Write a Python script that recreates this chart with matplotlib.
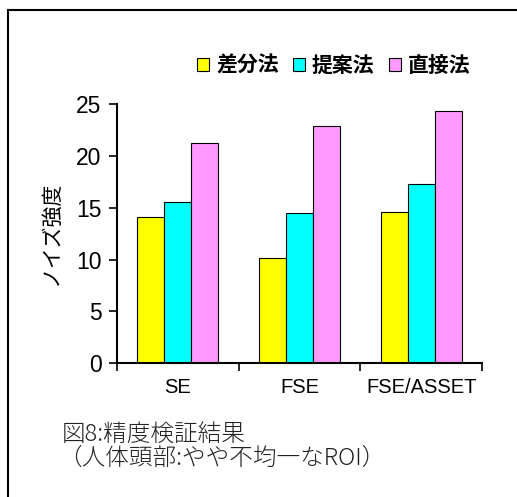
import numpy as np
import matplotlib.pyplot as plt
from matplotlib.lines import Line2D

# --- Daten ---
categories = ["SE", "FSE", "FSE/ASSET"]
series_names = ["差分法", "提案法", "直接法"]
sabun = [14.1, 10.1, 14.6]
teian = [15.6, 14.5, 17.3]
chokusetsu = [21.3, 22.9, 24.4]
colors = ["#ffff00", "#00ffff", "#ff99ff"]
yticks = [0, 5, 10, 15, 20, 25]

jp = ["Noto Sans CJK JP", "DejaVu Sans"]

fig = plt.figure(figsize=(5.17, 4.97), dpi=100)
ax = fig.add_axes([0.2263, 0.2696, 0.706, 0.5205])

x = np.arange(len(categories))
w = 0.222
for i, (vals, c, name) in enumerate(zip([sabun, teian, chokusetsu], colors, series_names)):
    ax.bar(x + (i - 1) * w, vals, w, color=c, edgecolor="black", linewidth=0.8, label=name)

ax.set_xlim(-0.5, 2.5)
ax.set_ylim(0, 25)
ax.set_yticks(yticks)
ax.set_xticks(x)
ax.set_xticklabels(categories, family="Liberation Sans", fontsize=14.5)
ax.set_xticks([-0.5, 0.5, 1.5, 2.5], minor=True)
ax.tick_params(axis="x", which="major", length=0, pad=11)
ax.tick_params(axis="x", which="minor", length=6, width=1.2, direction="out")
ax.tick_params(axis="y", length=6, width=1.2, direction="out", pad=5)
for t in ax.get_yticklabels():
    t.set_family("Liberation Sans")
    t.set_fontsize(16.5)

for s in ["top", "right"]:
    ax.spines[s].set_visible(False)
for s in ["left", "bottom"]:
    ax.spines[s].set_linewidth(1.5)

ax.set_ylabel("ノイズ強度", family=jp, fontsize=15, labelpad=10)

fig.legend(loc="center", bbox_to_anchor=(0.646, 0.869), ncol=3, frameon=False,
           prop={"family": jp, "size": 15, "weight": "bold"},
           handlelength=0.55, handleheight=0.55, handletextpad=0.35, columnspacing=0.7)

# --- Beschriftung unten ---
fig.text(62 / 517, 1 - 434 / 497, "図8:精度検証結果", family=jp, fontsize=17,
         weight="light", va="center", ha="left", color="#222222")
fig.text(58 / 517, 1 - 458 / 497, "（人体頭部:やや不均一なROI）", family=jp, fontsize=17,
         weight="light", va="center", ha="left", color="#222222")

# --- Rahmen (oben und links) ---
fig.add_artist(Line2D([8 / 517, 1.0], [1 - 10 / 497, 1 - 10 / 497], color="black", linewidth=1.5))
fig.add_artist(Line2D([8 / 517, 8 / 517], [0.0, 1 - 10 / 497], color="black", linewidth=1.5))

fig.savefig("out.png", dpi=100)
